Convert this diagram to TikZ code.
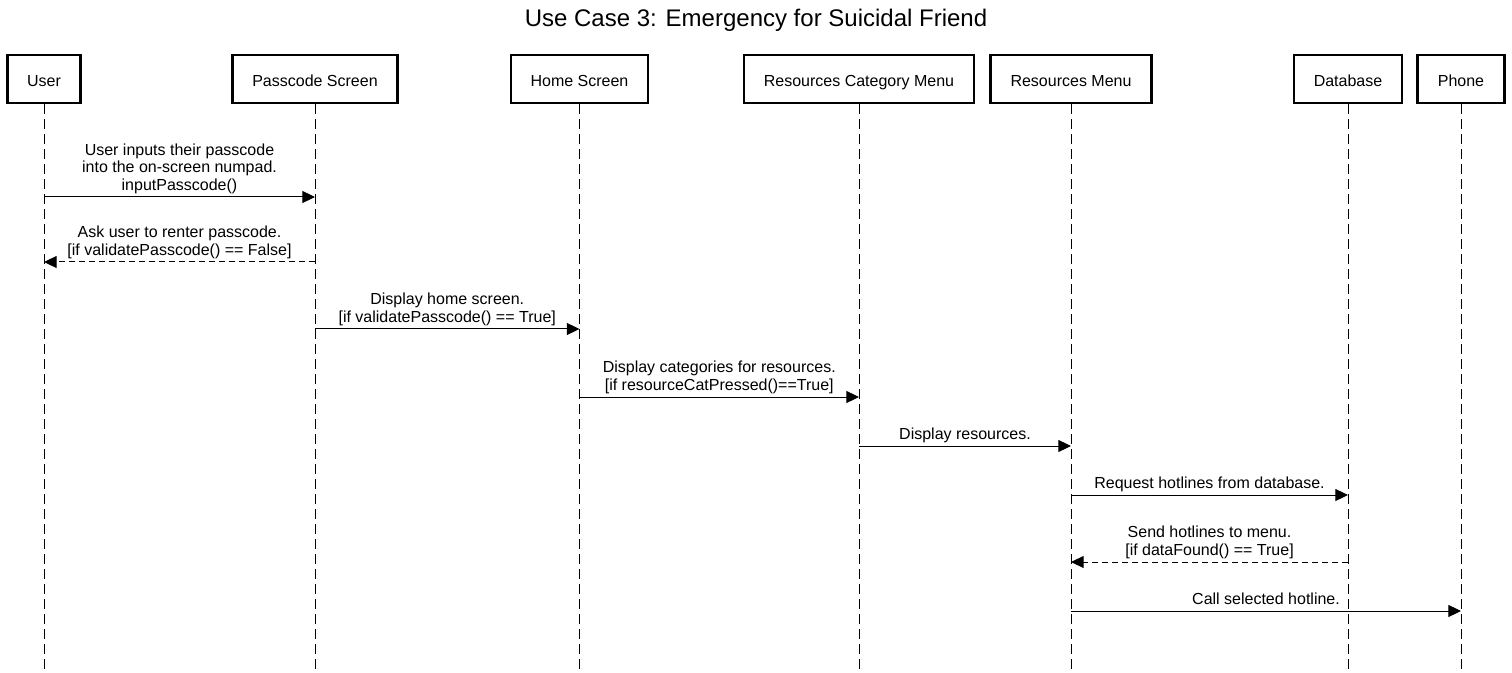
\documentclass[tikz,border=0pt]{standalone}
\usepackage{fontspec}
\setmainfont{Liberation Sans}
\usetikzlibrary{arrows.meta}

\begin{document}
\begin{tikzpicture}[x=0.75pt,y=-0.75pt,
  font=\fontsize{12}{13.2}\selectfont,
  actor/.style={draw, line width=1.6pt, minimum height=36pt, inner sep=0pt,
                text height=11pt, text depth=0pt},
  lifeline/.style={line width=0.75pt, dash pattern=on 7.5pt off 3.75pt},
  call/.style={line width=0.75pt, -{Triangle[length=9.5pt,width=9pt]}},
  reply/.style={call, dash pattern=on 4.5pt off 3pt},
  msg/.style={anchor=south, align=center, inner sep=0pt, text depth=0pt, yshift=4.6pt}]

  \useasboundingbox (0,0) rectangle (1512,673);

  % title
  \node[font=\fontsize{18}{21.6}\selectfont] (title) at (756,20)
    {Use Case 3: Emergency for Suicidal Friend};

  % participants: name / x-mid / box width / label
  \foreach \n/\x/\w/\t in {user/44/73/User,
                          pass/315/165/Passcode Screen,
                          home/579.5/137/Home Screen,
                          rcm/859/230/Resources Category Menu,
                          rm/1071/161/Resources Menu,
                          db/1348/108/Database,
                          phone/1461/87/Phone} {
    \node[actor, minimum width=\w*0.75pt] (\n) at (\x,79) {\t};
    \coordinate (\n-end) at (\x,673);
    \draw[lifeline] (\n.south) -- (\n-end);
  }

  % --- messages ---

  % passcode entry
  \draw[call] (user |- 0,197) -- node[msg]
    {User inputs their passcode\\into the on-screen numpad.\\inputPasscode()} (pass |- 0,197);
  \draw[reply] (pass |- 0,262) -- node[msg]
    {Ask user to renter passcode.\\{}[if validatePasscode() == False]} (user |- 0,262);
  \draw[call] (pass |- 0,329) -- node[msg]
    {Display home screen.\\{}[if validatePasscode() == True]} (home |- 0,329);

  % resources
  \draw[call] (home |- 0,397) -- node[msg]
    {Display categories for resources.\\{}[if resourceCatPressed()==True]} (rcm |- 0,397);
  \draw[call] (rcm |- 0,446) -- node[msg] {Display resources.} (rm |- 0,446);

  % hotlines
  \draw[call] (rm |- 0,495) -- node[msg] {Request hotlines from database.} (db |- 0,495);
  \draw[reply] (db |- 0,562) -- node[msg]
    {Send hotlines to menu.\\{}[if dataFound() == True]} (rm |- 0,562);
  \draw[call] (rm |- 0,611) -- node[msg] {Call selected hotline.} (phone |- 0,611);

\end{tikzpicture}
\end{document}
